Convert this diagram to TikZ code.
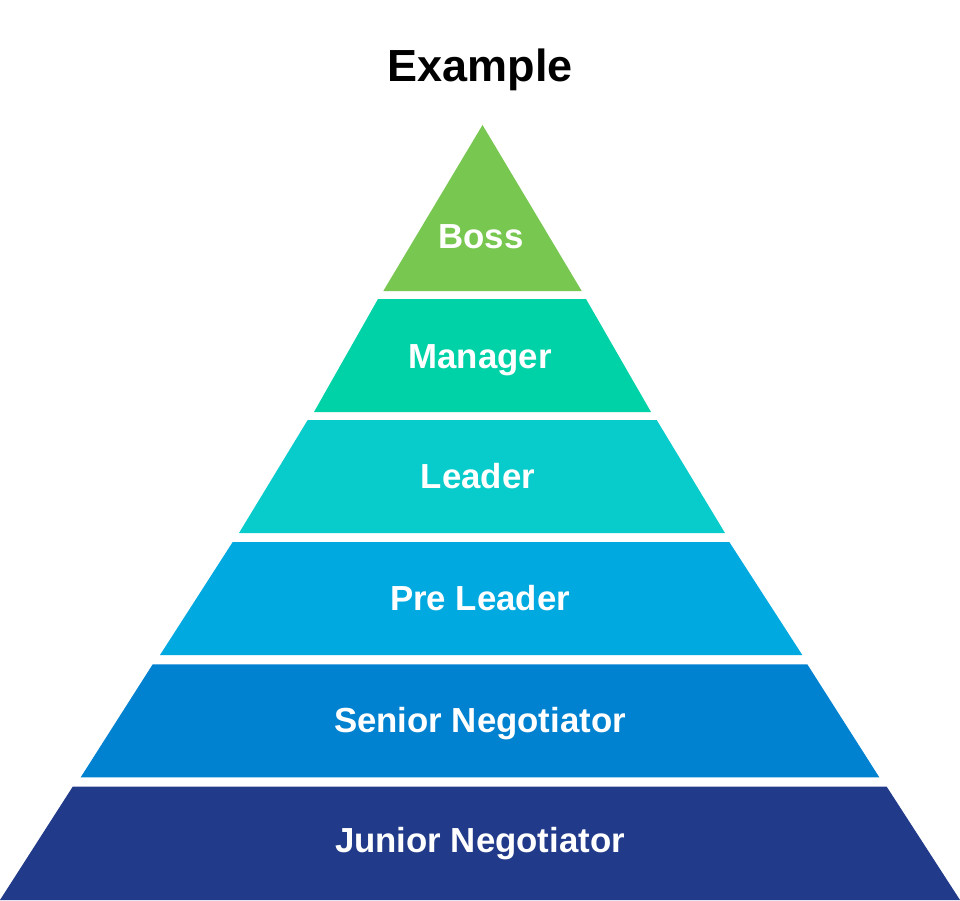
\documentclass[tikz,border=0pt]{standalone}
\usepackage{fontspec}
\setmainfont{Liberation Sans}
\definecolor{cboss}{HTML}{78C750}
\definecolor{cmanager}{HTML}{00D2A7}
\definecolor{cleader}{HTML}{08CBCB}
\definecolor{cpre}{HTML}{00A9DF}
\definecolor{csenior}{HTML}{0082D0}
\definecolor{cjunior}{HTML}{213A8A}
\begin{document}
\begin{tikzpicture}[x=1pt,y=-1pt,
  lbl/.style={text=white,font=\bfseries\fontsize{34.8}{40}\selectfont,anchor=base,inner sep=0pt},
  ttl/.style={text=black,font=\bfseries\fontsize{45}{50}\selectfont,anchor=base,inner sep=0pt}]
\useasboundingbox (0,0) rectangle (960,900);
\fill[white] (0,0) rectangle (960,900);
\fill[cboss] (482.5,125) -- (581.7,291) -- (383.3,291) -- cycle;
\fill[cmanager] (378,299) -- (586,299) -- (651,412) -- (314,412) -- cycle;
\fill[cleader] (307.7,420) -- (656.7,420) -- (725,533) -- (239,533) -- cycle;
\fill[cpre] (232.7,542) -- (729.3,542) -- (802.3,655) -- (160,655) -- cycle;
\fill[csenior] (152.7,664.3) -- (807.3,664.3) -- (879.3,777.3) -- (80.7,777.3) -- cycle;
\fill[cjunior] (72.7,786.7) -- (886.7,786.7) -- (960,900) -- (0,900) -- cycle;
\node[ttl] (title) at (480,81) {Example};
\node[lbl] (boss) at (481,248) {Boss};
\node[lbl] (manager) at (480,368) {Manager};
\node[lbl] (leader) at (478,488) {Leader};
\node[lbl] (pre) at (480,610) {Pre Leader};
\node[lbl] (senior) at (480,732) {Senior Negotiator};
\node[lbl] (junior) at (480,852) {Junior Negotiator};
\end{tikzpicture}
\end{document}
